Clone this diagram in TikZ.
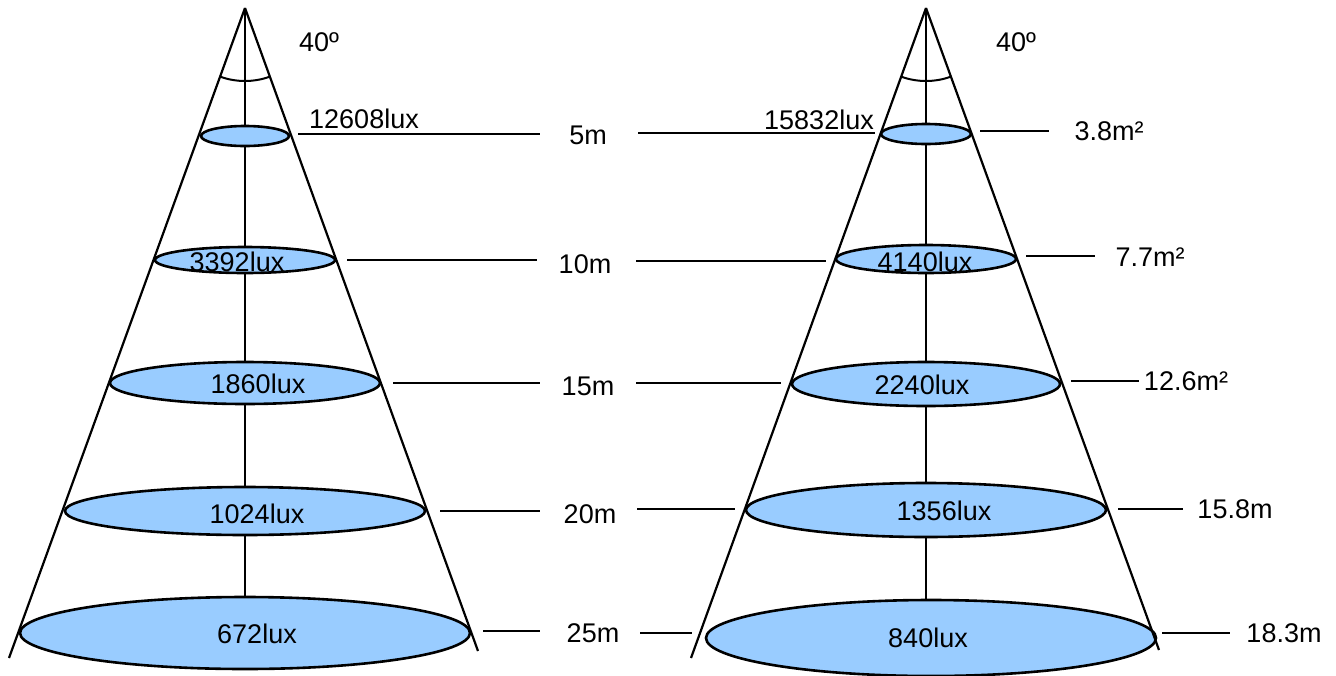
\documentclass[tikz,border=0pt]{standalone}
\usepackage{fontspec}
\setmainfont{Liberation Sans}
\usetikzlibrary{shapes.geometric}
\definecolor{spotblue}{HTML}{99CCFF}
\begin{document}
\begin{tikzpicture}[x=1pt,y=-1pt,
  coneline/.style={line width=2.2pt},
  axisline/.style={line width=2pt},
  spot/.style 2 args={ellipse, draw, line width=2.6pt, fill=spotblue, inner sep=0pt,
     minimum width=#1pt, minimum height=#2pt},
  lbl/.style={inner sep=0pt, font=\fontsize{27}{31}\selectfont},
  tick/.style={line width=1.6pt}]
\useasboundingbox (0,0) rectangle (1336,675);
\clip (0,0) rectangle (1336,675);

% ---------- left cone ----------
\coordinate (A) at (245,8);
\coordinate (AL) at (9,658);
\coordinate (AR) at (478,651);
\draw[axisline] (A) -- (245,633);
\node[spot={88}{20}]  (e1) at (245,136) {};
\node[spot={180}{26}] (e2) at (245,260) {};
\node[spot={270}{42}] (e3) at (245,383) {};
\node[spot={360}{48}] (e4) at (245,511) {};
\node[spot={450}{72}] (e5) at (245,633) {};
\draw[coneline] (A) -- (AL);
\draw[coneline] (A) -- (AR);
\draw[axisline] (A) ++(110:73) arc[start angle=110, end angle=70, radius=73];
\node[lbl] (ang1) at (319,42) {40º};

\node[lbl] (l1) at (364,119) {12608lux};
\node[lbl] (l2) at (237,262) {3392lux};
\node[lbl] (l3) at (258,384) {1860lux};
\node[lbl] (l4) at (257,514) {1024lux};
\node[lbl] (l5) at (257,634) {672lux};

\node[lbl] (d1) at (588,135) {5m};
\node[lbl] (d2) at (585,264) {10m};
\node[lbl] (d3) at (588,386) {15m};
\node[lbl] (d4) at (590,514) {20m};
\node[lbl] (d5) at (593,633) {25m};

\coordinate (p1a) at (298,134); \coordinate (p1b) at (540,134);
\coordinate (p2a) at (347,260); \coordinate (p2b) at (537,260);
\coordinate (p3a) at (393,383); \coordinate (p3b) at (540,383);
\coordinate (p4a) at (440,511); \coordinate (p4b) at (540,511);
\coordinate (p5a) at (483,631); \coordinate (p5b) at (540,631);
\foreach \i in {1,...,5} \draw[tick] (p\i a) -- (p\i b);

% ---------- right cone ----------
\coordinate (B) at (926,8);
\coordinate (BL) at (691,658);
\coordinate (BR) at (1159,650);
\draw[axisline] (B) -- (926,638);
\node[spot={90}{20}]  (f1) at (926,134) {};
\node[spot={180}{28}] (f2) at (926,259) {};
\node[spot={268}{44}] (f3) at (926,384) {};
\node[spot={360}{54}] (f4) at (926,510) {};
\node[spot={450}{76}] (f5) at (931,638) {};
\draw[coneline] (B) -- (BL);
\draw[coneline] (B) -- (BR);
\draw[axisline] (B) ++(110:73) arc[start angle=110, end angle=70, radius=73];
\node[lbl] (ang2) at (1016,42) {40º};

\node[lbl] (m1) at (819,120) {15832lux};
\node[lbl] (m2) at (925,262) {4140lux};
\node[lbl] (m3) at (922,385) {2240lux};
\node[lbl] (m4) at (944,511) {1356lux};
\node[lbl] (m5) at (928,638) {840lux};

\node[lbl] (s1) at (1109,131) {3.8m²};
\node[lbl] (s2) at (1150,257) {7.7m²};
\node[lbl] (s3) at (1186,381) {12.6m²};
\node[lbl] (s4) at (1235,509) {15.8m};
\node[lbl] (s5) at (1284,633) {18.3m};

\coordinate (q1a) at (638,133); \coordinate (q1b) at (875,133);
\coordinate (q2a) at (636,261); \coordinate (q2b) at (826,261);
\coordinate (q3a) at (636,383); \coordinate (q3b) at (781,383);
\coordinate (q4a) at (637,509); \coordinate (q4b) at (735,509);
\coordinate (q5a) at (640,633); \coordinate (q5b) at (692,633);
\foreach \i in {1,...,5} \draw[tick] (q\i a) -- (q\i b);

\coordinate (r1a) at (980,131);  \coordinate (r1b) at (1049,131);
\coordinate (r2a) at (1026,256); \coordinate (r2b) at (1095,256);
\coordinate (r3a) at (1071,381); \coordinate (r3b) at (1139,381);
\coordinate (r4a) at (1118,509); \coordinate (r4b) at (1183,509);
\coordinate (r5a) at (1162,633); \coordinate (r5b) at (1230,633);
\foreach \i in {1,...,5} \draw[tick] (r\i a) -- (r\i b);
\end{tikzpicture}
\end{document}
